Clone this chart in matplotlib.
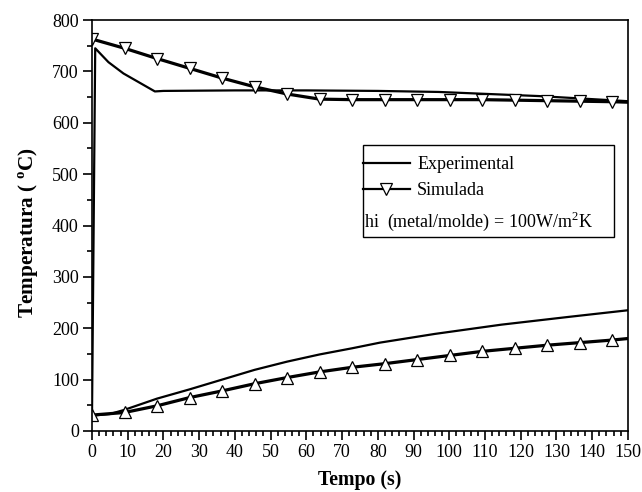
import matplotlib
matplotlib.use("Agg")
import matplotlib.pyplot as plt
from matplotlib.lines import Line2D
from matplotlib.patches import Rectangle

plt.rcParams['font.family'] = ['Liberation Serif', 'DejaVu Serif']
plt.rcParams['mathtext.fontset'] = 'custom'
plt.rcParams['mathtext.rm'] = 'Liberation Serif'
plt.rcParams['mathtext.bf'] = 'Liberation Serif:bold'

# experimental curves (metal / mould)
t_exp_up = [0, 0.9, 4.6, 8.8, 17.6, 20, 40, 60, 80, 97, 125, 150]
exp_up = [30, 745, 718, 696, 661, 662, 663, 663, 662, 660, 652, 642]
t_exp_lo = [0, 5, 9, 18.2, 27.3, 36.4, 45.5, 54.6, 63.7, 72.8, 80.6, 96, 114.6, 133.3, 150]
exp_lo = [30, 33, 41, 63, 81, 100, 119, 135, 149, 161, 172, 189, 207, 222, 235]

# simulated curves
t_sim = [0, 9.1, 18.2, 27.3, 36.4, 45.5, 54.6, 63.7, 72.8, 81.9, 91.0,
         100.1, 109.2, 118.3, 127.4, 136.5, 145.6, 150]
sim_up = [763, 745, 725, 706, 687, 670, 656, 646, 645, 645, 645,
          645, 645, 644, 643, 642, 641, 640]
sim_lo = [31, 36, 49, 65, 78, 92, 104, 115, 124, 131, 139,
          147, 155, 161, 167, 172, 177, 180]

fig = plt.figure(figsize=(6.42, 4.92), dpi=100)
ax = fig.add_axes([0.1433, 0.124, 0.8347, 0.8353])

marks = list(range(len(t_sim) - 1))
ax.plot(t_exp_up, exp_up, color='black', lw=1.6)
ax.plot(t_exp_lo, exp_lo, color='black', lw=1.6)
ax.plot(t_sim, sim_up, color='black', lw=2.3, marker='v', ms=8,
        mfc='white', mec='black', mew=0.9, markevery=marks)
ax.plot(t_sim, sim_lo, color='black', lw=2.3, marker='^', ms=8,
        mfc='white', mec='black', mew=0.9, markevery=marks)

ax.set_xlim(0, 150)
ax.set_ylim(0, 800)
ax.set_xticks(range(0, 151, 10))
ax.set_xticks(range(0, 151, 2), minor=True)
ax.set_yticks(range(0, 801, 100))
ax.set_yticks(range(0, 801, 50), minor=True)
ax.tick_params(which='both', direction='out', top=False, right=False,
               labelsize=13, width=1.2, pad=3)
ax.tick_params(which='major', length=6.5)
ax.tick_params(which='minor', length=3.5)
for s in ax.spines.values():
    s.set_linewidth(1.2)

ax.set_xlabel('Tempo (s)', fontsize=14.3, fontweight='bold', labelpad=6)
ax.set_ylabel(r'Temperatura ( $^{\mathbf{o}}$C)', fontsize=15.3,
              fontweight='bold')
ax.yaxis.set_label_coords(-0.096, 0.484)

# legend box drawn by hand, entries placed inside
ax.add_patch(Rectangle((0.5056, 0.472), 0.4684, 0.2239, transform=ax.transAxes,
                       fill=False, edgecolor='black', lw=1.0, zorder=4))
handles = [Line2D([], [], color='black', lw=1.6),
           Line2D([], [], color='black', lw=1.6, marker='v', ms=8,
                  mfc='white', mec='black', mew=0.9)]
ax.legend(handles, ['Experimental', 'Simulada'],
          loc='upper left', bbox_to_anchor=(0.5056, 0.668),
          fontsize=13, frameon=False, borderpad=0, labelspacing=0.5,
          handlelength=2.6, handletextpad=0.4, borderaxespad=0)
ax.text(0.5075, 0.496, 'hi  (metal/molde) = 100W/m$^{2}$K',
        transform=ax.transAxes, fontsize=13, va='baseline', ha='left')

fig.savefig('out.png', dpi=100)
